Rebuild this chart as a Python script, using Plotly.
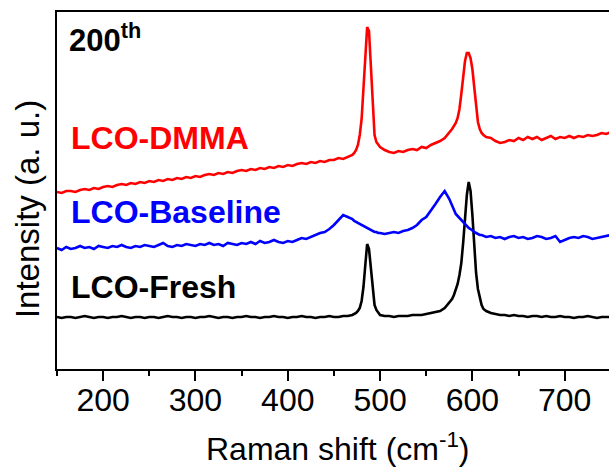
import plotly.graph_objects as go

# Raman shift sampling (cm-1), in segments
x_a = [150, 155, 160, 165, 170, 175, 180, 185, 190, 195,
       200, 205, 210, 215, 220, 225, 230, 235, 240, 245,
       250, 255, 260, 265, 270, 275, 280, 285, 290, 295,
       300, 305, 310, 315, 320, 325, 330, 335, 340, 345,
       350, 355, 360, 365, 370, 375, 380, 385, 390, 395,
       400, 405, 410, 415, 420, 425, 430, 435, 440, 445,
       450, 455, 460, 465, 470]
x_b = [472, 474, 476, 478, 480, 482, 484, 486, 488, 490, 492, 494, 496, 498, 500]
x_c = [505, 510, 515, 520, 525, 530, 535, 540, 545, 550, 555, 560, 565, 570, 575]
x_d = [578, 580, 582, 584, 586, 588, 590, 592, 594, 596, 598, 600, 602, 604, 606, 608, 610, 612]
x_e = [615, 620, 625, 630, 635, 640, 645, 650, 655, 660,
       665, 670, 675, 680, 685, 690, 695, 700, 705, 710,
       715, 720, 725, 730, 735, 740, 745, 750]
raman_shift = x_a + x_b + x_c + x_d + x_e

# LCO-Fresh intensity (a.u.)
fresh_a = [52, 51, 52, 52, 51, 52, 53, 52, 51, 52,
           52, 51, 52, 52, 53, 52, 51, 52, 52, 51,
           52, 52, 51, 52, 53, 52, 52, 51, 52, 52,
           51, 52, 52, 53, 52, 51, 52, 52, 51, 52,
           52, 53, 52, 52, 51, 52, 52, 53, 52, 52,
           51, 52, 52, 53, 52, 52, 51, 52, 52, 53,
           52, 52, 53, 53, 54]
fresh_b = [55, 56, 58, 61, 68, 82, 104, 125, 120, 100, 76, 64, 59, 56, 54]
fresh_c = [53, 53, 52, 53, 53, 53, 54, 54, 54, 55, 56, 57, 58, 61, 66]
fresh_d = [70, 74, 79, 85, 94, 106, 126, 152, 174, 187, 178, 154, 122, 96, 80, 70, 64, 60]
fresh_e = [58, 56, 55, 54, 54, 53, 54, 53, 53, 52,
           53, 53, 52, 53, 52, 52, 53, 52, 52, 51,
           52, 52, 53, 52, 51, 52, 52, 52]
fresh = fresh_a + fresh_b + fresh_c + fresh_d + fresh_e

# LCO-Baseline intensity (a.u.)
base_a = [121, 119, 122, 120, 121, 123, 121, 122, 120, 123,
          122, 121, 123, 122, 124, 122, 121, 123, 122, 124,
          123, 122, 124, 126, 123, 122, 124, 123, 125, 124,
          123, 125, 124, 126, 124, 125, 123, 126, 125, 124,
          126, 125, 127, 125, 128, 126, 127, 129, 127, 126,
          128, 127, 129, 131, 130, 132, 134, 136, 137, 140,
          144, 149, 154, 152, 150]
base_b = [148, 147, 146, 145, 144, 143, 142, 141, 140, 139, 138, 137, 137, 136, 136]
base_c = [135, 136, 137, 136, 138, 139, 141, 144, 149, 152, 158, 165, 172, 178, 170]
base_d = [164, 159, 155, 153, 151, 148, 146, 144, 143, 141, 140, 138, 137, 136, 135, 134, 134, 133]
base_e = [132, 133, 131, 132, 130, 132, 133, 131, 132, 130,
          131, 133, 132, 130, 131, 133, 127, 129, 131, 132,
          131, 133, 132, 130, 131, 132, 133, 134]
baseline = base_a + base_b + base_c + base_d + base_e

# LCO-DMMA intensity (a.u.)
dmma_a = [177, 176, 178, 178, 177, 179, 180, 179, 181, 180,
          182, 183, 182, 184, 185, 184, 186, 185, 187, 186,
          188, 187, 189, 188, 190, 189, 191, 190, 192, 191,
          193, 192, 194, 195, 194, 196, 195, 197, 196, 198,
          199, 198, 200, 199, 201, 200, 202, 201, 203, 202,
          204, 203, 205, 206, 205, 207, 206, 208, 207, 209,
          209, 211, 210, 212, 214]
dmma_b = [216, 219, 224, 234, 250, 280, 315, 342, 338, 300, 262, 234, 227, 224, 222]
dmma_c = [219, 217, 216, 218, 217, 219, 220, 219, 222, 221, 224, 226, 228, 231, 236]
dmma_d = [240, 243, 246, 251, 260, 275, 293, 308, 316, 316, 311, 300, 282, 262, 247, 240, 236, 234]
dmma_e = [232, 231, 228, 226, 227, 229, 228, 231, 229, 232,
          230, 232, 229, 231, 233, 230, 232, 231, 233, 231,
          233, 232, 234, 233, 234, 236, 235, 237]
dmma = dmma_a + dmma_b + dmma_c + dmma_d + dmma_e

x_ticks = [200, 300, 400, 500, 600, 700]

FONT = "Liberation Sans, Arial, sans-serif"

fig = go.Figure()
fig.add_trace(go.Scatter(x=raman_shift, y=fresh, mode="lines",
                         line=dict(color="#000000", width=2.6), name="LCO-Fresh"))
fig.add_trace(go.Scatter(x=raman_shift, y=baseline, mode="lines",
                         line=dict(color="#0000ff", width=2.6), name="LCO-Baseline"))
fig.add_trace(go.Scatter(x=raman_shift, y=dmma, mode="lines",
                         line=dict(color="#ff0000", width=2.6), name="LCO-DMMA"))

fig.update_layout(
    width=609, height=467,
    margin=dict(l=57, r=0, t=12, b=98),
    paper_bgcolor="white", plot_bgcolor="white",
    showlegend=False,
    font=dict(family=FONT, color="black"),
    xaxis=dict(
        range=[150, 748], showgrid=False, zeroline=False,
        showline=True, linecolor="black", linewidth=2, mirror=True,
        ticks="outside", ticklen=10, tickwidth=2, tickcolor="black",
        tickvals=x_ticks, tickfont=dict(size=32, family=FONT, color="black"),
        ticklabelstandoff=-8,
        minor=dict(ticks="outside", ticklen=5, tickwidth=2, tickcolor="black", dtick=50, tick0=150),
    ),
    yaxis=dict(
        range=[0, 357], showgrid=False, zeroline=False,
        showline=True, linecolor="black", linewidth=2, mirror=False,
        showticklabels=False, ticks="",
    ),
    annotations=[
        dict(text="Raman shift (cm<sup>-1</sup>)", x=0.509, y=-0.218, xref="paper", yref="paper",
             showarrow=False, xanchor="center", yanchor="middle",
             font=dict(size=32, family=FONT, color="black")),
        dict(text="Intensity (a. u.)", x=-0.0543, y=0.448, xref="paper", yref="paper",
             showarrow=False, textangle=-90, xanchor="center", yanchor="middle",
             font=dict(size=33, family=FONT, color="black")),
        dict(text="<b>200<sup>th</sup></b>", x=0.018, y=0.928, xref="paper", yref="paper",
             showarrow=False, xanchor="left", yanchor="middle",
             font=dict(size=31, family=FONT, color="black")),
        dict(text="<b>LCO-DMMA</b>", x=0.022, y=0.647, xref="paper", yref="paper",
             showarrow=False, xanchor="left", yanchor="middle",
             font=dict(size=32, family=FONT, color="#ff0000")),
        dict(text="<b>LCO-Baseline</b>", x=0.022, y=0.440, xref="paper", yref="paper",
             showarrow=False, xanchor="left", yanchor="middle",
             font=dict(size=32, family=FONT, color="#0000ff")),
        dict(text="<b>LCO-Fresh</b>", x=0.022, y=0.2297, xref="paper", yref="paper",
             showarrow=False, xanchor="left", yanchor="middle",
             font=dict(size=32, family=FONT, color="#000000")),
    ],
)

fig.write_html("out.html")
